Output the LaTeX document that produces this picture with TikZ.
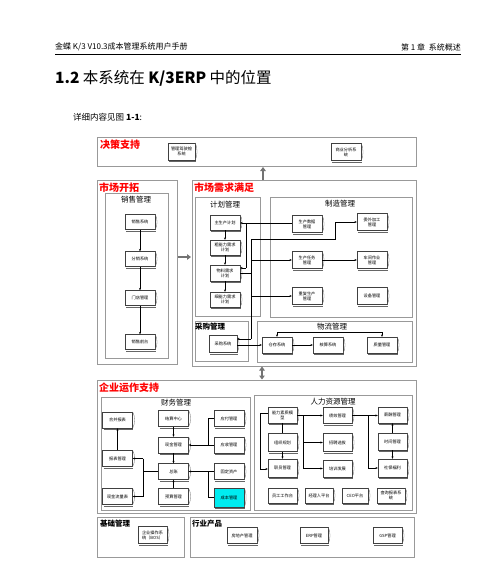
\documentclass[tikz,border=0pt]{standalone}
\usepackage{fontspec}
\setmainfont{Liberation Serif}
\newfontfamily\cjk{Noto Sans CJK SC}
\usetikzlibrary{arrows.meta}
\definecolor{boxcyan}{RGB}{0,236,240}
\tikzset{
 frame/.style={draw=black!40, line width=0.6pt},
 bx/.style={draw=black!75, line width=0.35pt, fill=white, minimum width=30pt, minimum height=16pt, inner sep=0.3pt, align=center, font=\cjk\fontsize{4.2}{5}\selectfont},
 bxedge/.style={draw=black!60, line width=0.3pt},
 arr/.style={draw=black, line width=0.35pt, -{Stealth[length=2.4pt,width=2pt]}},
 darr/.style={draw=black, line width=0.35pt, {Stealth[length=2.4pt,width=2pt]}-{Stealth[length=2.4pt,width=2pt]}},
 ln/.style={draw=black, line width=0.35pt},
 big/.style={draw=black!55, line width=1.6pt, -{Triangle[length=4pt,width=5.5pt]}},
 bigd/.style={draw=black!55, line width=1.6pt, {Triangle[length=4pt,width=5.5pt]}-{Triangle[length=4pt,width=5.5pt]}},
 redlab/.style={anchor=west, text=red, font=\cjk\bfseries\fontsize{10}{11}\selectfont, inner sep=0pt},
 seclab/.style={font=\cjk\fontsize{7.5}{8}\selectfont, inner sep=0pt},
 boldlab/.style={anchor=west, font=\cjk\bfseries\fontsize{7.5}{8}\selectfont, inner sep=0pt},
}
\newcommand\mybox[4][]{\node[bx,#1] (#2) at (#3) {#4};
 \draw[bxedge] (#2.north east) .. controls +(2.5pt,-4pt) and +(2.5pt,4pt) .. (#2.south east);
 \draw[bxedge] ([xshift=1.5pt,yshift=-1pt]#2.south west) -- ([xshift=0.5pt,yshift=-1pt]#2.south east);}
\begin{document}
\begin{tikzpicture}[x=1pt,y=-1pt]
\useasboundingbox[fill=white] (0,0) rectangle (500,565);
% header
\node[anchor=west, inner sep=0pt, font=\cjk\fontsize{8}{9}\selectfont] (hleft) at (55,47) {金蝶 K/3 V10.3成本管理系统用户手册};
\node[anchor=east, inner sep=0pt, font=\cjk\fontsize{8}{9}\selectfont] (hright) at (461,47) {第 1 章\ \ 系统概述};
\draw[line width=1pt] (55,54) -- (461,54);
\node[anchor=west, inner sep=0pt, font=\cjk\fontsize{15.5}{17}\selectfont] (title) at (55,78) {\textbf{1.2} 本系统在 \textbf{K/3ERP} 中的位置};
\node[anchor=west, inner sep=0pt, font=\cjk\fontsize{8.5}{9}\selectfont] (intro) at (73,117) {详细内容见图 \textbf{1-1}:};

% containers
\draw[frame] (97,137) rectangle (416,166);
\draw[frame] (97,180) rectangle (177,364);
\draw[frame] (105,193) rectangle (168,358);
\draw[frame] (192,180) rectangle (416,366);
\draw[frame] (195,197) rectangle (260,316);
\draw[frame] (270,197) rectangle (412,317);
\draw[frame] (195,321) rectangle (248,361);
\draw[frame] (257,321) rectangle (412,362);
\draw[frame] (97,380) rectangle (416,513);
\draw[frame] (101,397) rectangle (250,510);
\draw[frame] (254,395) rectangle (412,510);
\draw[frame] (97,517) rectangle (184,557);
\draw[frame] (190,517) rectangle (414,557);

% labels
\node[redlab] (lds) at (100,145) {决策支持};
\node[redlab] (lmo) at (99,188) {市场开拓};
\node[redlab] (lmd) at (194,188) {市场需求满足};
\node[redlab] (lent) at (99,388) {企业运作支持};
\node[seclab] (lsales) at (136,200) {销售管理};
\node[seclab] (lplan) at (225,205) {计划管理};
\node[seclab] (lmfg) at (340,204) {制造管理};
\node[boldlab] (lpur) at (195,327) {采购管理};
\node[seclab] (llog) at (332,327) {物流管理};
\node[seclab] (lfin) at (176,403) {财务管理};
\node[seclab] (lhr) at (333,402) {人力资源管理};
\node[boldlab] (lbase) at (100,524) {基础管理};
\node[boldlab] (lind) at (192,524) {行业产品};

% decision support
\mybox[minimum width=27pt,minimum height=17pt]{ds1}{181.5,151.5}{管理驾驶舱\\系统}
\mybox[minimum height=17pt]{ds2}{346,152}{商业分析系\\统}

% sales
\mybox[minimum height=15pt]{s1}{140,222}{销售系统}
\mybox[minimum height=15pt]{s2}{140,259}{分销系统}
\mybox[minimum height=15pt]{s3}{140,298}{门店管理}
\mybox[minimum height=15pt]{s4}{140,342}{销售前台}
\draw[arr] (s1.south) -- (s2.north);
\draw[arr] (s2.south) -- (s3.north);
\draw[arr] (s3.south) -- (s4.north);

% planning
\mybox[minimum height=15pt]{p1}{225,222.5}{主生产计划}
\mybox[minimum height=15pt]{p2}{225,247.5}{粗能力需求\\计划}
\mybox[minimum height=16pt]{p3}{225,273}{物料需求\\计划}
\mybox[minimum height=15pt]{p4}{225,299.5}{细能力需求\\计划}
\draw[arr] (p1.south) -- (p2.north);
\draw[arr] (p2.south) -- (p3.north);
\draw[arr] (p3.south) -- (p4.north);

% manufacturing
\mybox[minimum height=17pt]{m1}{307,224}{生产数据\\管理}
\mybox[minimum height=17pt]{m2}{372,222}{委外加工\\管理}
\mybox[minimum height=17pt]{m3}{307,260}{生产任务\\管理}
\mybox[minimum height=17pt]{m4}{372,260}{车间作业\\管理}
\mybox[minimum height=17pt]{m5}{307,296}{重复生产\\管理}
\mybox[minimum height=17pt]{m6}{372,296}{设备管理}
\draw[arr] (m3.east) -- (m4.west);

% purchasing & logistics
\mybox[minimum width=28pt,minimum height=17pt]{pu1}{223,344}{采购系统}
\mybox{l1}{277,345}{仓存系统}
\mybox{l2}{328,345}{核算系统}
\mybox{l3}{382,345}{质量管理}
\draw[arr] (pu1.east |- l1.west) -- (l1.west);
\draw[arr] (l1.east) -- (l2.west);
\coordinate (lq1) at (277,332);
\coordinate (lq2) at (382,332);
\draw[darr] (l1.north) -- (lq1) -- (lq2) -- (l3.north);

% planning / manufacturing bus
\coordinate (b1) at (246,223);
\coordinate (b2) at (246,268);
\draw[ln] (m1.west |- b1) -- (b1) -- (b2);
\draw[arr] (b1) -- (p1.east |- b1);
\draw[arr] (b2) -- (p3.east |- b2);
\coordinate (c0) at (251,273);
\coordinate (c1) at (251,239);
\coordinate (c2) at (335,239);
\coordinate (c3) at (335,222);
\coordinate (c4) at (251,339);
\draw[ln] (p3.east |- c0) -- (c0);
\draw[ln] (c1) -- (c4);
\draw[arr] (c1) -- (c2) -- (c3) -- (m2.west);
\draw[arr] (251,260) -- (m3.west);
\draw[arr] (251,296) -- (m5.west);
\draw[arr] (c4) -- (pu1.east |- c4);

% big arrows
\draw[big] (263,180) -- (263,167);
\draw[big] (178,257) -- (191,257);
\draw[bigd] (262,366.5) -- (262,379.5);

% finance
\mybox{fhb}{117.5,420}{合并报表}
\mybox{fbb}{117.5,458.5}{报表管理}
\mybox{fxl}{117.5,496.5}{现金流量表}
\mybox{fjs}{173.5,418.5}{结算中心}
\mybox{fxj}{173.5,445}{现金管理}
\mybox{fzz}{173.5,471.5}{总账}
\mybox{fys}{173.5,496.5}{预算管理}
\mybox{fyf}{229,418.5}{应付管理}
\mybox{fys2}{229,445}{应收管理}
\mybox{fgd}{229,471.5}{固定资产}
\mybox[fill=boxcyan,minimum height=19pt]{fcb}{229,497.5}{成本管理}
\draw[arr] (fbb.north) -- (fhb.south);
\draw[arr] (fjs.south) -- (fxj.north);
\draw[arr] (fxj.south) -- (fzz.north);
\draw[arr] (fys.north) -- (fzz.south);
\coordinate (fv1) at (208,418.5);
\coordinate (fv2) at (208,497.5);
\draw[ln] (fyf.west) -- (fv1) -- (208,445);
\draw[arr] (fys2.west) -- (fxj.east);
\draw[ln] (fcb.west) -- (fv2) -- (208,471.5);
\draw[arr] (fgd.west) -- (fzz.east);
\coordinate (fw1) at (143,471.5);
\coordinate (fw2) at (143,458.5);
\coordinate (fw3) at (143,496.5);
\draw[ln] (fzz.west) -- (fw1);
\draw[ln] (fw2) -- (fw3);
\draw[arr] (fw2) -- (fbb.east);
\draw[arr] (fw3) -- (fxl.east);

% human resources
\mybox[minimum width=29pt]{h1}{282.5,415}{能力素质模\\型}
\mybox[minimum width=29pt,minimum height=18pt]{h2}{282.5,442.5}{组织规划}
\mybox[minimum width=29pt,minimum height=18pt]{h3}{282.5,468}{职员管理}
\mybox[minimum width=29pt]{h4}{337.5,415.5}{绩效管理}
\mybox[minimum width=29pt,minimum height=18pt]{h5}{337.5,442.5}{招聘选拔}
\mybox[minimum width=29pt,minimum height=17pt]{h6}{337.5,468.5}{培训发展}
\mybox[minimum width=29pt]{h7}{392.5,415}{薪酬管理}
\mybox[minimum width=29pt,minimum height=17pt]{h8}{392.5,441.5}{时间管理}
\mybox[minimum width=29pt,minimum height=18pt]{h9}{392.5,468}{社保福利}
\mybox[minimum width=29pt,minimum height=15pt]{h10}{282.5,495.5}{员工工作台}
\mybox[minimum width=28pt,minimum height=15pt]{h11}{319,495.5}{经理人平台}
\mybox[minimum width=26pt,minimum height=15pt]{h12}{355,495.5}{CEO平台}
\mybox[minimum width=28pt,minimum height=15pt]{h13}{391,495.5}{查询报表系\\统}
\coordinate (hl1) at (260,413);
\coordinate (hl2) at (260,469);
\draw[ln] (h1.west |- hl1) -- (hl1) -- (hl2);
\draw[arr] (hl2) -- (h3.west |- hl2);
\draw[ln] (h1.south) -- (h2.north);
\draw[arr] (h2.south) -- (h3.north);
\coordinate (hr1) at (303,415.5);
\coordinate (hr2) at (303,468.5);
\draw[ln] (h1.east |- hr1) -- (hr1) -- (hr2);
\draw[arr] (hr1) -- (h4.west);
\draw[arr] (303,442.5) -- (h5.west);
\draw[arr] (hr2) -- (h6.west);
\draw[arr] (h4.east) -- (h7.west |- h4.east);
\coordinate (hs1) at (368,415.5);
\coordinate (hs2) at (368,468);
\draw[ln] (hs1) -- (hs2);
\draw[arr] (hs2) -- (h9.west);
\draw[arr] (h8.north) -- (h7.south);
\draw[arr] (h8.south) -- (h9.north);

% base & industry
\mybox[minimum width=29pt,minimum height=17pt]{bos}{152.5,535}{企业操作系\\统（BOS）}
\mybox[minimum height=16pt]{i1}{242,535.5}{房地产管理}
\mybox[minimum width=28pt,minimum height=16pt]{i2}{314,535.5}{ERP管理}
\mybox[minimum width=29pt,minimum height=16pt]{i3}{387.5,535.5}{GSP管理}
\end{tikzpicture}
\end{document}
